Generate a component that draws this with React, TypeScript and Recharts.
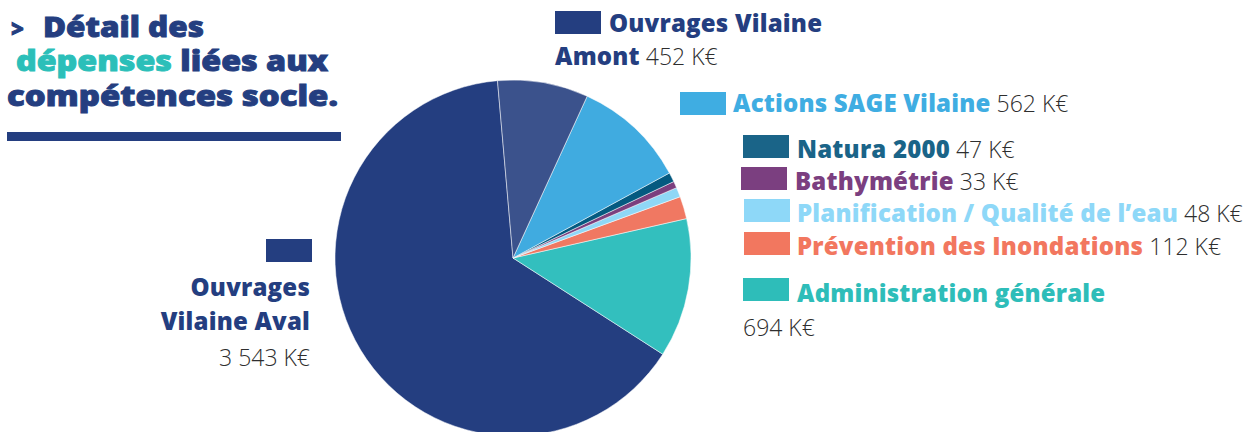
import React from 'react';
import { PieChart, Pie, Cell } from 'recharts';

const categories = [
  'Ouvrages Vilaine Aval',
  'Administration générale',
  'Prévention des Inondations',
  'Planification / Qualité de l’eau',
  'Bathymétrie',
  'Natura 2000',
  'Actions SAGE Vilaine',
  'Ouvrages Vilaine Amont',
];
const values = [3543, 694, 112, 48, 33, 47, 562, 452];
const valueLabels = ['3 543 K€', '694 K€', '112 K€', '48 K€', '33 K€', '47 K€', '562 K€', '452 K€'];
const sliceColors = ['#243e80', '#33bfbe', '#f07862', '#8fd7f6', '#7b3f7e', '#045a80', '#40abe0', '#3b528c'];
const legendColors = ['#243e80', '#2ebdb9', '#f2775f', '#8ed8f8', '#7b3f80', '#1a6488', '#3fade2', '#243e80'];

const data = categories.map((name, i) => ({ name, value: values[i] }));

const LABEL_FONT = '"Open Sans", "DejaVu Sans", sans-serif';
const FS = 24;
const VFS = 23;
const VALUE_STYLE: React.CSSProperties = { fontFamily: LABEL_FONT, fontWeight: 300, fill: '#2e2e2e', fontSize: VFS, letterSpacing: 0 };

function Sq({ x, y, c }: { x: number; y: number; c: string }) {
  return <rect x={x} y={y} width={46} height={23} fill={c} />;
}

export default function App() {
  const lab = (i: number): React.CSSProperties => ({
    fill: legendColors[i],
    fontFamily: LABEL_FONT,
    fontWeight: 800,
    fontSize: FS,
    letterSpacing: 0.2,
  });
  const titleStyle: React.CSSProperties = {
    fontFamily: '"Open Sans", "DejaVu Sans", sans-serif',
    fontWeight: 800,
    fontSize: 28,
  };
  return (
    <div style={{ position: 'absolute', left: 0, top: 0, width: 1249, height: 432, overflow: 'hidden', background: '#fff' }}>
      <div style={{ position: 'absolute', left: 0, top: 0 }}>
        <PieChart width={1249} height={432} margin={{ top: 0, right: 0, bottom: 0, left: 0 }}>
          <Pie
            data={data}
            dataKey="value"
            nameKey="name"
            cx={513}
            cy={258}
            outerRadius={178}
            innerRadius={0}
            startAngle={95}
            endAngle={455}
            isAnimationActive={false}
            stroke="#ffffff"
            strokeWidth={0.5}
          >
            {data.map((d, i) => (
              <Cell key={d.name} fill={sliceColors[i]} />
            ))}
          </Pie>
        </PieChart>
      </div>
      <svg width={1249} height={432} style={{ position: 'absolute', left: 0, top: 0, pointerEvents: 'none' }}>
        {/* Title */}
        <g style={titleStyle} fill="#243e80" stroke="#243e80" strokeWidth={0.9}>
          <text x={11} y={37} fontSize={22}>&gt;</text>
          <text x={43} y={37} textLength={161} lengthAdjust="spacingAndGlyphs">Détail des</text>
          <text x={16} y={71} textLength={312} lengthAdjust="spacingAndGlyphs">
            <tspan fill="#2bbfb9" stroke="#2bbfb9">dépenses</tspan>
            <tspan> liées aux</tspan>
          </text>
          <text x={7} y={106} textLength={331} lengthAdjust="spacingAndGlyphs">compétences socle.</text>
        </g>
        <rect x={7} y={132} width={334} height={9} fill="#243e80" />

        {/* Ouvrages Vilaine Amont */}
        <Sq x={555} y={11} c={legendColors[7]} />
        <text x={609} y={32} style={lab(7)}>Ouvrages Vilaine</text>
        <text x={555} y={65}>
          <tspan style={lab(7)}>Amont</tspan>
          <tspan style={VALUE_STYLE}> {valueLabels[7]}</tspan>
        </text>

        {/* Actions SAGE */}
        <Sq x={680} y={92} c={legendColors[6]} />
        <text x={733} y={112}>
          <tspan style={lab(6)}>{categories[6]}</tspan>
          <tspan style={VALUE_STYLE}> {valueLabels[6]}</tspan>
        </text>

        {/* Natura 2000 */}
        <Sq x={743} y={135} c={legendColors[5]} />
        <text x={797} y={158}>
          <tspan style={lab(5)}>{categories[5]}</tspan>
          <tspan style={VALUE_STYLE}> {valueLabels[5]}</tspan>
        </text>

        {/* Bathymétrie */}
        <Sq x={741} y={167} c={legendColors[4]} />
        <text x={795} y={190}>
          <tspan style={lab(4)}>{categories[4]}</tspan>
          <tspan style={VALUE_STYLE}> {valueLabels[4]}</tspan>
        </text>

        {/* Planification */}
        <Sq x={744} y={199} c={legendColors[3]} />
        <text x={797} y={222}>
          <tspan style={lab(3)}>{categories[3]}</tspan>
          <tspan style={VALUE_STYLE}> {valueLabels[3]}</tspan>
        </text>

        {/* Prévention */}
        <Sq x={744} y={232} c={legendColors[2]} />
        <text x={797} y={255}>
          <tspan style={lab(2)}>{categories[2]}</tspan>
          <tspan style={VALUE_STYLE}> {valueLabels[2]}</tspan>
        </text>

        {/* Administration générale */}
        <Sq x={743} y={278} c={legendColors[1]} />
        <text x={797} y={302} style={lab(1)}>{categories[1]}</text>
        <text x={743} y={336} style={VALUE_STYLE}>{valueLabels[1]}</text>

        {/* Ouvrages Vilaine Aval */}
        <Sq x={266} y={239} c={legendColors[0]} />
        <text x={310} y={296} textAnchor="end" style={lab(0)}>Ouvrages</text>
        <text x={310} y={330} textAnchor="end" style={lab(0)}>Vilaine Aval</text>
        <text x={310} y={366} textAnchor="end" style={VALUE_STYLE}>{valueLabels[0]}</text>
      </svg>
    </div>
  );
}
